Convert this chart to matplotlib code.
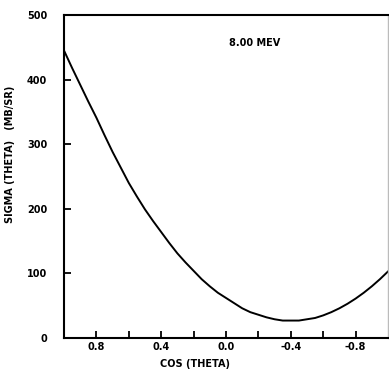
import matplotlib
matplotlib.use('Agg')
import matplotlib.pyplot as plt

cos_theta = [1.0, 0.95, 0.9, 0.85, 0.8, 0.75, 0.7, 0.65, 0.6, 0.55, 0.5,
             0.45, 0.4, 0.35, 0.3, 0.25, 0.2, 0.15, 0.1, 0.05, 0.0,
             -0.05, -0.1, -0.15, -0.2, -0.25, -0.3, -0.35, -0.4, -0.45, -0.5,
             -0.55, -0.6, -0.65, -0.7, -0.75, -0.8, -0.85, -0.9, -0.95, -1.0]
sigma = [445, 418, 392, 366, 341, 314, 288, 264, 240, 219, 199,
         181, 164, 147, 131, 117, 104, 91, 80, 70, 62,
         54, 46, 40, 36, 32, 29, 27, 27, 27, 29,
         31, 35, 40, 46, 53, 61, 70, 80, 91, 103]

xticks = [0.8, 0.4, 0.0, -0.4, -0.8]
xticklabels = ['0.8', '0.4', '0.0', '-0.4', '-0.8']
xminor = [0.6, 0.2, -0.2, -0.6]
yticks = [0, 100, 200, 300, 400, 500]

plt.rcParams['font.family'] = 'DejaVu Sans'
plt.rcParams['font.weight'] = 'bold'
plt.rcParams['axes.labelweight'] = 'bold'

fig = plt.figure(figsize=(3.89, 3.73), dpi=100)
ax = fig.add_axes([64 / 389, 35 / 373, 324 / 389, 323 / 373])

ax.plot(cos_theta, sigma, color='black', linewidth=1.4)

ax.set_xlim(1.0, -1.0)
ax.set_ylim(0, 500)
ax.set_xticks(xticks)
ax.set_xticklabels(xticklabels)
ax.set_xticks(xminor, minor=True)
ax.set_yticks(yticks)

ax.tick_params(axis='both', which='both', direction='in', length=5,
               width=1.3, labelsize=7)
ax.tick_params(axis='x', pad=3)
ax.tick_params(axis='y', pad=12)

for s in ['left', 'bottom', 'top']:
    ax.spines[s].set_linewidth(1.5)
ax.spines['right'].set_color('#bbbbbb')
ax.spines['right'].set_linewidth(1.0)

ax.text(-0.02, 456, '8.00 MEV', fontsize=7, ha='left', va='center')

ax.set_xlabel('COS (THETA)', fontsize=7, labelpad=0)
ax.xaxis.set_label_coords(0.405, -0.065)
ax.set_ylabel('SIGMA (THETA)   (MB/SR)', fontsize=7)
ax.yaxis.set_label_coords(-0.15, 0.57)

fig.savefig('out.png', dpi=100)
